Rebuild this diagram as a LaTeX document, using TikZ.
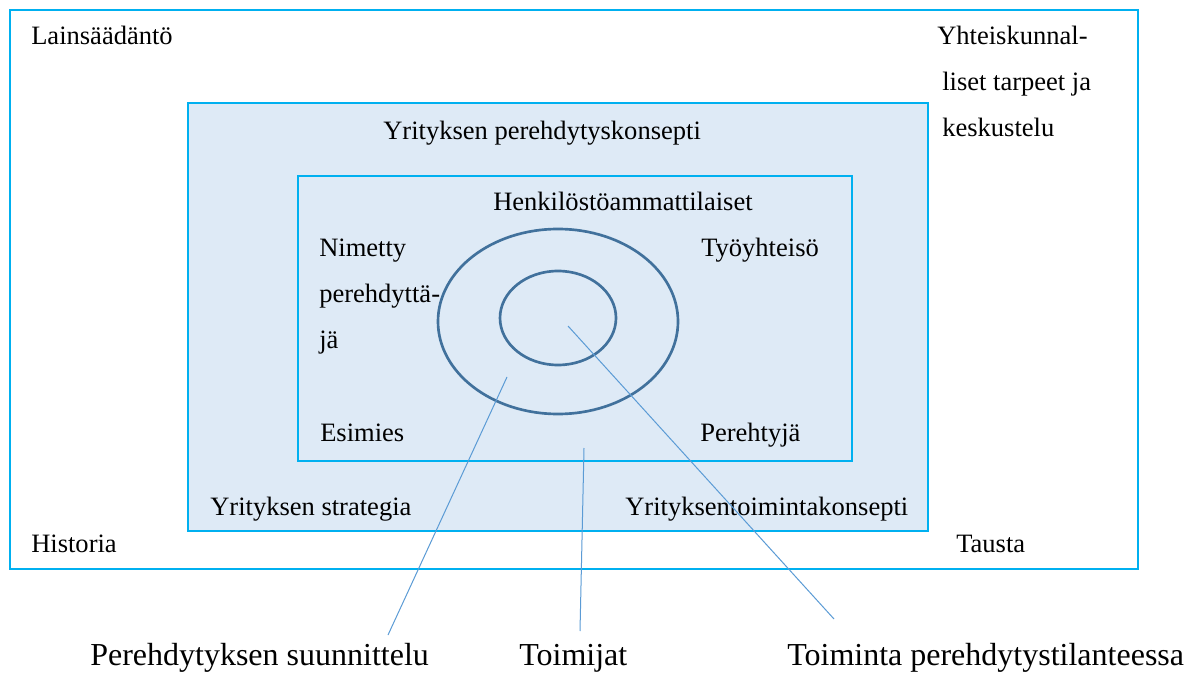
\documentclass[tikz,border=0pt]{standalone}
\usepackage{fontspec}
\setmainfont{Liberation Serif}
\definecolor{boxcyan}{RGB}{0,176,240}
\definecolor{boxfill}{RGB}{222,234,246}
\definecolor{ringblue}{RGB}{65,113,156}
\definecolor{linkblue}{RGB}{91,155,213}
\begin{document}
\begin{tikzpicture}[x=0.75pt,y=-0.75pt,
  frame/.style={draw=boxcyan,line width=2.2pt},
  ring/.style={draw=ringblue,line width=2pt},
  link/.style={draw=linkblue,line width=0.75pt},
  lbl/.style={anchor=base west,inner sep=0pt,font=\fontsize{19.9}{24}\selectfont},
  biglbl/.style={anchor=base west,inner sep=0pt,font=\fontsize{24}{29}\selectfont}]
\useasboundingbox (0,0) rectangle (1198,673);
% boxes
\draw[frame,fill=white] (10,10) rectangle (1138,569);
\draw[frame,fill=boxfill] (188,103) rectangle (928,531);
\draw[frame,fill=boxfill] (298,176) rectangle (852,461);
% rings
\draw[ring] (558,321.5) ellipse [x radius=120, y radius=92.5];
\draw[ring] (558,318) ellipse [x radius=58, y radius=47];
% texts
\node[lbl] (lain) at (31,45) {Lainsäädäntö};
\node[lbl] (yht1) at (937,45) {Yhteiskunnal-};
\node[lbl] (yht2) at (942,91) {liset tarpeet ja};
\node[lbl] (yht3) at (942,137) {keskustelu};
\node[lbl] (konsepti) at (383,140) {Yrityksen perehdytyskonsepti};
\node[lbl] (henk) at (493,211) {Henkilöstöammattilaiset};
\node[lbl] (nim1) at (319,257) {Nimetty};
\node[lbl] (nim2) at (319,303) {perehdyttä-};
\node[lbl] (nim3) at (319,349) {jä};
\node[lbl] (tyo) at (701,257) {Työyhteisö};
\node[lbl] (esim) at (320,441) {Esimies};
\node[lbl] (pere) at (700,441) {Perehtyjä};
\node[lbl] (strat) at (210,515) {Yrityksen strategia};
\node[lbl] (toimk) at (625,515) {Yrityksentoimintakonsepti};
\node[lbl] (hist) at (31,552) {Historia};
\node[lbl] (taus) at (956,552) {Tausta};
\node[biglbl] (suun) at (90,665) {Perehdytyksen suunnittelu};
\node[biglbl] (toimij) at (519,665) {Toimijat};
\node[biglbl] (toimin) at (787,665) {Toiminta perehdytystilanteessa};
% connectors
\coordinate (a1) at (507,377);
\coordinate (a2) at (388,635);
\coordinate (b1) at (584,448);
\coordinate (b2) at (580,631);
\coordinate (c1) at (568,326);
\coordinate (c2) at (834,619);
\draw[link] (a1) -- (a2);
\draw[link] (b1) -- (b2);
\draw[link] (c1) -- (c2);
\end{tikzpicture}
\end{document}
